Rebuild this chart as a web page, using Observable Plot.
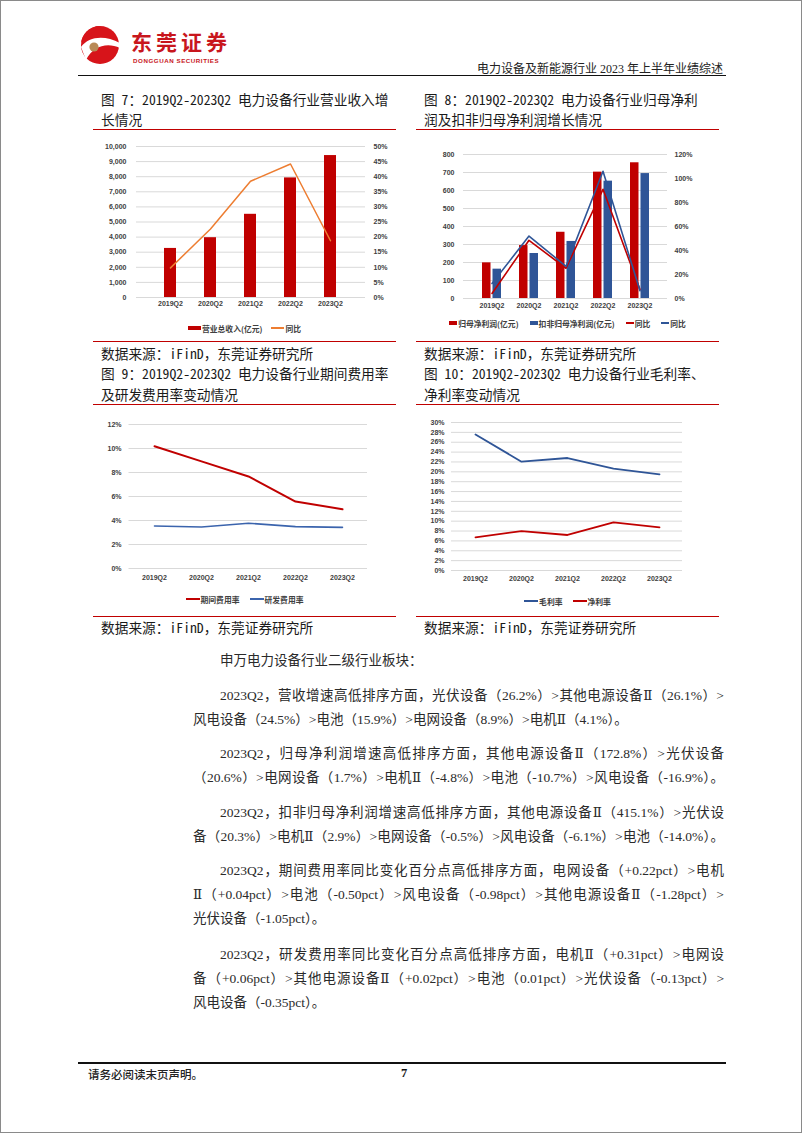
<!DOCTYPE html>
<html><head><meta charset="utf-8">
<script src="https://cdn.jsdelivr.net/npm/d3@7"></script>
<script src="https://cdn.jsdelivr.net/npm/@observablehq/plot@0.6"></script>
<style>
html,body{margin:0;padding:0;background:#fff;}
#page{position:relative;width:802px;height:1133px;box-sizing:border-box;border:1px solid #8a8a8a;overflow:hidden;font-family:"Noto Sans CJK SC",sans-serif;background:#fff;}
.abs{position:absolute;}
.title{position:absolute;font-family:"Noto Sans Mono CJK SC","Noto Sans CJK SC",sans-serif;font-size:13.7px;color:#1a1a1a;white-space:nowrap;}
.rule{position:absolute;height:0;border-top:1.5px solid #c00000;}
.legend{position:absolute;display:flex;justify-content:center;align-items:center;font-family:"Noto Sans CJK SC",sans-serif;font-size:7.8px;font-weight:bold;color:#404040;white-space:nowrap;height:12px;}
.legend .item{display:flex;align-items:center;}
.legend .sw{display:inline-block;margin-right:1px;}
.body{position:absolute;font-family:"Liberation Serif","DejaVu Serif","Noto Sans CJK SC",serif;font-size:13.5px;line-height:24px;color:#2a2a2a;white-space:nowrap;}
.jl{text-align:justify;text-align-last:justify;}
</style>
</head><body>
<div id="page"></div>
<script>
// ---------------- data ----------------
const quarters = ["2019Q2","2020Q2","2021Q2","2022Q2","2023Q2"];
// 图7 营业总收入(亿元) & 同比(%)
const revenue = [3250, 3960, 5510, 7920, 9400];
const revenueYoY = [9.8, 22.7, 38.5, 44.2, 18.8];
// 图8 归母净利润 / 扣非归母净利润 (亿元) & 同比(%)
const netProfit = [198, 294, 368, 702, 754];
const deductedProfit = [163, 250, 317, 652, 694];
const netProfitYoY = [4.2, 48.5, 25.2, 91.0, 7.4];
const deductedYoY = [12.5, 52.0, 26.8, 106.0, 6.5];
// 图9 期间费用率 / 研发费用率 (%)
const periodExpenseRate = [10.19, 8.93, 7.67, 5.58, 4.94];
const rdExpenseRate = [3.54, 3.46, 3.77, 3.49, 3.43];
// 图10 毛利率 / 净利率 (%)
const grossMargin = [27.58, 22.06, 22.8, 20.65, 19.5];
const netMargin = [6.73, 8.0, 7.2, 9.75, 8.74];

const ticks7L = d3.range(0, 10001, 1000);
const ticks8L = d3.range(0, 801, 100);
const ticks8R = d3.range(0, 121, 20);
const ticks9 = d3.range(0, 13, 2);
const ticks10 = d3.range(0, 31, 2);

const titles = {
  c7: ["图 7：2019Q2-2023Q2 电力设备行业营业收入增", "长情况"],
  c8: ["图 8：2019Q2-2023Q2 电力设备行业归母净利", "润及扣非归母净利润增长情况"],
  c9: ["图 9：2019Q2-2023Q2 电力设备行业期间费用率", "及研发费用率变动情况"],
  c10: ["图 10：2019Q2-2023Q2 电力设备行业毛利率、", "净利率变动情况"]
};
const sourceText = "数据来源：iFinD，东莞证券研究所";

const bodyLines = [
  {t:"申万电力设备行业二级行业板块：", x:219, y:660, j:false},
  {t:"2023Q2，营收增速高低排序方面，光伏设备（26.2%）>其他电源设备Ⅱ（26.1%）>", x:219, y:695, j:true},
  {t:"风电设备（24.5%）>电池（15.9%）>电网设备（8.9%）>电机Ⅱ（4.1%）。", x:192, y:719, j:false},
  {t:"2023Q2，归母净利润增速高低排序方面，其他电源设备Ⅱ（172.8%）>光伏设备", x:219, y:753, j:true},
  {t:"（20.6%）>电网设备（1.7%）>电机Ⅱ（-4.8%）>电池（-10.7%）>风电设备（-16.9%）。", x:192, y:777, j:true},
  {t:"2023Q2，扣非归母净利润增速高低排序方面，其他电源设备Ⅱ（415.1%）>光伏设", x:219, y:812, j:true},
  {t:"备（20.3%）>电机Ⅱ（2.9%）>电网设备（-0.5%）>风电设备（-6.1%）>电池（-14.0%）。", x:192, y:836, j:true},
  {t:"2023Q2，期间费用率同比变化百分点高低排序方面，电网设备（+0.22pct）>电机", x:219, y:870, j:true},
  {t:"Ⅱ（+0.04pct）>电池（-0.50pct）>风电设备（-0.98pct）>其他电源设备Ⅱ（-1.28pct）>", x:192, y:894, j:true},
  {t:"光伏设备（-1.05pct）。", x:192, y:918, j:false},
  {t:"2023Q2，研发费用率同比变化百分点高低排序方面，电机Ⅱ（+0.31pct）>电网设", x:219, y:954, j:true},
  {t:"备（+0.06pct）>其他电源设备Ⅱ（+0.02pct）>电池（0.01pct）>光伏设备（-0.13pct）>", x:192, y:978, j:true},
  {t:"风电设备（-0.35pct）。", x:192, y:1002, j:false}
];

// ---------------- helpers ----------------
const page = document.getElementById("page");
function el(tag, cls, css, html){
  const e = document.createElement(tag);
  if (cls) e.className = cls;
  if (css) Object.assign(e.style, css);
  if (html != null) e.textContent = html;
  page.appendChild(e);
  return e;
}
function place(node, left, top){
  const d = el("div", "abs", {left:left+"px", top:top+"px"});
  d.appendChild(node);
}
function legend(items, left, width, cy, swW, gap){
  const lg = el("div", "legend", {left:left+"px", width:width+"px", top:(cy-6)+"px"});
  items.forEach((it, i) => {
    const item = document.createElement("span");
    item.className = "item";
    if (i > 0) item.style.marginLeft = gap + "px";
    const sw = document.createElement("span");
    sw.className = "sw";
    sw.style.width = swW + "px";
    sw.style.height = it.type === "rect" ? "4.5px" : "1.6px";
    sw.style.background = it.color;
    item.appendChild(sw);
    const tx = document.createElement("span");
    tx.textContent = it.label;
    item.appendChild(tx);
    lg.appendChild(item);
  });
}
const axisStyle = {fontFamily:"'Liberation Sans', Arial, sans-serif", fontSize:"7px", fontWeight:"bold", color:"#404040", background:"transparent", overflow:"visible"};

// ---------------- header ----------------
const logo = document.createElementNS("http://www.w3.org/2000/svg","svg");
logo.setAttribute("width","40"); logo.setAttribute("height","44");
logo.innerHTML = `
  <circle cx="20" cy="22" r="19" fill="#d7141a"/>
  <path d="M1,24 C9,13 25,12 40,20 L40,25 C27,19 13,23 6,37 Z" fill="#fff"/>
  <path d="M20,3 C10,3 2,11 1,20 C4,15 8,11 14,9 Z" fill="#d7141a"/>
  <circle cx="14" cy="24" r="4.6" fill="#b88a57"/>`;
place(logo, 79, 22);
el("div", "abs", {left:"130px", top:"30px", fontSize:"21px", fontWeight:"bold", color:"#c8161d", letterSpacing:"4px", lineHeight:"21px", fontFamily:"'Noto Sans CJK SC',sans-serif", whiteSpace:"nowrap"}, "东莞证券");
el("div", "abs", {left:"132px", top:"56px", fontSize:"6.2px", fontWeight:"bold", color:"#c8161d", letterSpacing:"0.55px", lineHeight:"8px", fontFamily:"'Liberation Sans',Arial,sans-serif", whiteSpace:"nowrap"}, "DONGGUAN SECURITIES");
el("div", "abs", {right:(802-724)+"px", top:"60px", fontSize:"12px", lineHeight:"16px", color:"#222", fontFamily:"'Liberation Serif','Noto Sans CJK SC',serif", whiteSpace:"nowrap"}, "电力设备及新能源行业 2023 年上半年业绩综述");
el("div", "abs", {left:"77px", width:"648px", top:"74px", height:"0", borderTop:"1.6px solid #111"});

// ---------------- titles, rules, sources ----------------
function titleBlock(lines, left, cy1, lh){
  lines.forEach((t, i) => el("div", "title", {left:left+"px", top:(cy1 - lh/2 + i*lh)+"px", lineHeight:lh+"px"}, t));
}
titleBlock(titles.c7, 100, 98, 20);
titleBlock(titles.c8, 423, 98, 20);
titleBlock(titles.c9, 100, 372, 21);
titleBlock(titles.c10, 423, 372, 21);
[[92,128],[415,128],[92,340],[415,340],[92,403],[415,403],[92,615],[415,615]].forEach(([x,y]) =>
  el("div", "rule", {left:x+"px", top:y+"px", width:"303px"}));
[[100,352],[423,352],[100,626],[423,626]].forEach(([x,y]) =>
  el("div", "title", {left:x+"px", top:(y-10)+"px", lineHeight:"20px"}, sourceText));

// ---------------- chart 7 ----------------
const k7 = 10000 / 50;
const d7 = quarters.map((q, i) => ({q, v: revenue[i], yoy: revenueYoY[i]}));
const c7 = Plot.plot({
  width:303, height:175, marginLeft:43, marginRight:31, marginTop:10, marginBottom:14,
  style: axisStyle,
  x: {domain: quarters, padding: 0.69},
  y: {domain: [0, 10000]},
  marks: [
    Plot.gridY({ticks: ticks7L, stroke:"#d9d9d9", strokeOpacity:1}),
    Plot.axisY({ticks: ticks7L, anchor:"left", tickSize:0, tickPadding:10, tickFormat: d3.format(","), label:null}),
    Plot.axisY({ticks: ticks7L, anchor:"right", tickSize:0, tickPadding:8, tickFormat: d => Math.round(d / k7) + "%", label:null}),
    Plot.axisX({tickSize:0, tickPadding:3.5, label:null}),
    Plot.barY(d7, {x:"q", y:"v", fill:"#c00000"}),
    Plot.lineY(d7, {x:"q", y: d => d.yoy * k7, stroke:"#ed7d31", strokeWidth:1.5})
  ]
});
place(c7, 92, 135);
legend([{type:"rect", color:"#c00000", label:"营业总收入(亿元)"}, {type:"line", color:"#ed7d31", label:"同比"}], 92, 303, 327, 13, 9);

// ---------------- chart 8 ----------------
const k8 = 800 / 120;
const d8 = quarters.map((q, i) => ({q, np: netProfit[i], dp: deductedProfit[i], npy: netProfitYoY[i], dpy: deductedYoY[i]}));
const c8 = Plot.plot({
  width:303, height:172, marginLeft:47, marginRight:52, marginTop:13, marginBottom:15,
  style: axisStyle,
  x: {domain: quarters, padding: 0.487},
  y: {domain: [0, 800]},
  marks: [
    Plot.gridY({ticks: ticks8L, stroke:"#d9d9d9", strokeOpacity:1}),
    Plot.axisY({ticks: ticks8L, anchor:"left", tickSize:0, tickPadding:9, label:null}),
    Plot.axisY({ticks: ticks8R.map(d => d * k8), anchor:"right", tickSize:0, tickPadding:7, tickFormat: d => Math.round(d / k8) + "%", label:null}),
    Plot.axisX({tickSize:0, tickPadding:4.5, label:null}),
    Plot.barY(d8, {x:"q", y:"np", fill:"#c00000", insetRight:10.5}),
    Plot.barY(d8, {x:"q", y:"dp", fill:"#2f5597", insetLeft:10.5}),
    Plot.lineY(d8, {x:"q", y: d => d.npy * k8, stroke:"#c00000", strokeWidth:1.6}),
    Plot.lineY(d8, {x:"q", y: d => d.dpy * k8, stroke:"#2f5597", strokeWidth:1.6})
  ]
});
place(c8, 415, 140);
legend([
  {type:"rect", color:"#c00000", label:"归母净利润(亿元)"},
  {type:"rect", color:"#2f5597", label:"扣非归母净利润(亿元)"},
  {type:"line", color:"#c00000", label:"同比"},
  {type:"line", color:"#2f5597", label:"同比"}
], 415, 303, 322, 8, 11);

// ---------------- chart 9 ----------------
const d9 = quarters.flatMap((q, i) => [
  {q, s:"期间费用率", v: periodExpenseRate[i]},
  {q, s:"研发费用率", v: rdExpenseRate[i]}
]);
const c9 = Plot.plot({
  width:303, height:175, marginLeft:35.5, marginRight:29, marginTop:13, marginBottom:18,
  style: axisStyle,
  x: {type:"point", domain: quarters, padding: 0.5},
  y: {domain: [0, 12]},
  color: {domain:["期间费用率","研发费用率"], range:["#c00000","#3b64ad"]},
  marks: [
    Plot.gridY({ticks: ticks9, stroke:"#d9d9d9", strokeOpacity:1}),
    Plot.axisY({ticks: ticks9, anchor:"left", tickSize:0, tickPadding:7.5, tickFormat: d => d + "%", label:null}),
    Plot.axisX({tickSize:0, tickPadding:6.5, label:null}),
    Plot.lineY(d9.filter(d => d.s === "研发费用率"), {x:"q", y:"v", stroke:"s", strokeWidth:1.6}),
    Plot.lineY(d9.filter(d => d.s === "期间费用率"), {x:"q", y:"v", stroke:"s", strokeWidth:2})
  ]
});
place(c9, 92, 410);
legend([{type:"line", color:"#c00000", label:"期间费用率"}, {type:"line", color:"#3b64ad", label:"研发费用率"}], 92, 303, 598, 14, 10);

// ---------------- chart 10 ----------------
const d10 = quarters.flatMap((q, i) => [
  {q, s:"毛利率", v: grossMargin[i]},
  {q, s:"净利率", v: netMargin[i]}
]);
const c10 = Plot.plot({
  width:303, height:175, marginLeft:35, marginRight:37, marginTop:11, marginBottom:16,
  style: axisStyle,
  x: {type:"point", domain: quarters, padding: 0.5},
  y: {domain: [0, 30]},
  color: {domain:["毛利率","净利率"], range:["#2f5597","#c00000"]},
  marks: [
    Plot.gridY({ticks: ticks10, stroke:"#d9d9d9", strokeOpacity:1}),
    Plot.axisY({ticks: ticks10, anchor:"left", tickSize:0, tickPadding:7, tickFormat: d => d + "%", label:null}),
    Plot.axisX({tickSize:0, tickPadding:5.5, label:null}),
    Plot.lineY(d10, {x:"q", y:"v", stroke:"s", z:"s", strokeWidth:1.8})
  ]
});
place(c10, 415, 410);
legend([{type:"line", color:"#2f5597", label:"毛利率"}, {type:"line", color:"#c00000", label:"净利率"}], 415, 303, 600, 14, 10);

// ---------------- body text ----------------
bodyLines.forEach(l => {
  const d = el("div", "body" + (l.j ? " jl" : ""), {left:l.x+"px", top:(l.y-12)+"px"}, l.t);
  if (l.j) {
    d.style.width = (723 - l.x) + "px";
    d.style.whiteSpace = "normal";
    let ls = 0;
    while (d.getBoundingClientRect().height > 30 && ls > -2) { ls -= 0.1; d.style.letterSpacing = ls + "px"; }
  }
});

// ---------------- footer ----------------
el("div", "abs", {left:"77px", width:"648px", top:"1061px", height:"0", borderTop:"2px solid #111"});
el("div", "abs", {left:"87px", top:"1065px", fontSize:"11.5px", lineHeight:"16px", color:"#222", fontWeight:"500"}, "请务必阅读末页声明。");
el("div", "abs", {left:"400px", top:"1064px", fontSize:"12.5px", lineHeight:"16px", color:"#111", fontWeight:"bold", fontFamily:"'Liberation Serif',serif"}, "7");
</script>
</body></html>
